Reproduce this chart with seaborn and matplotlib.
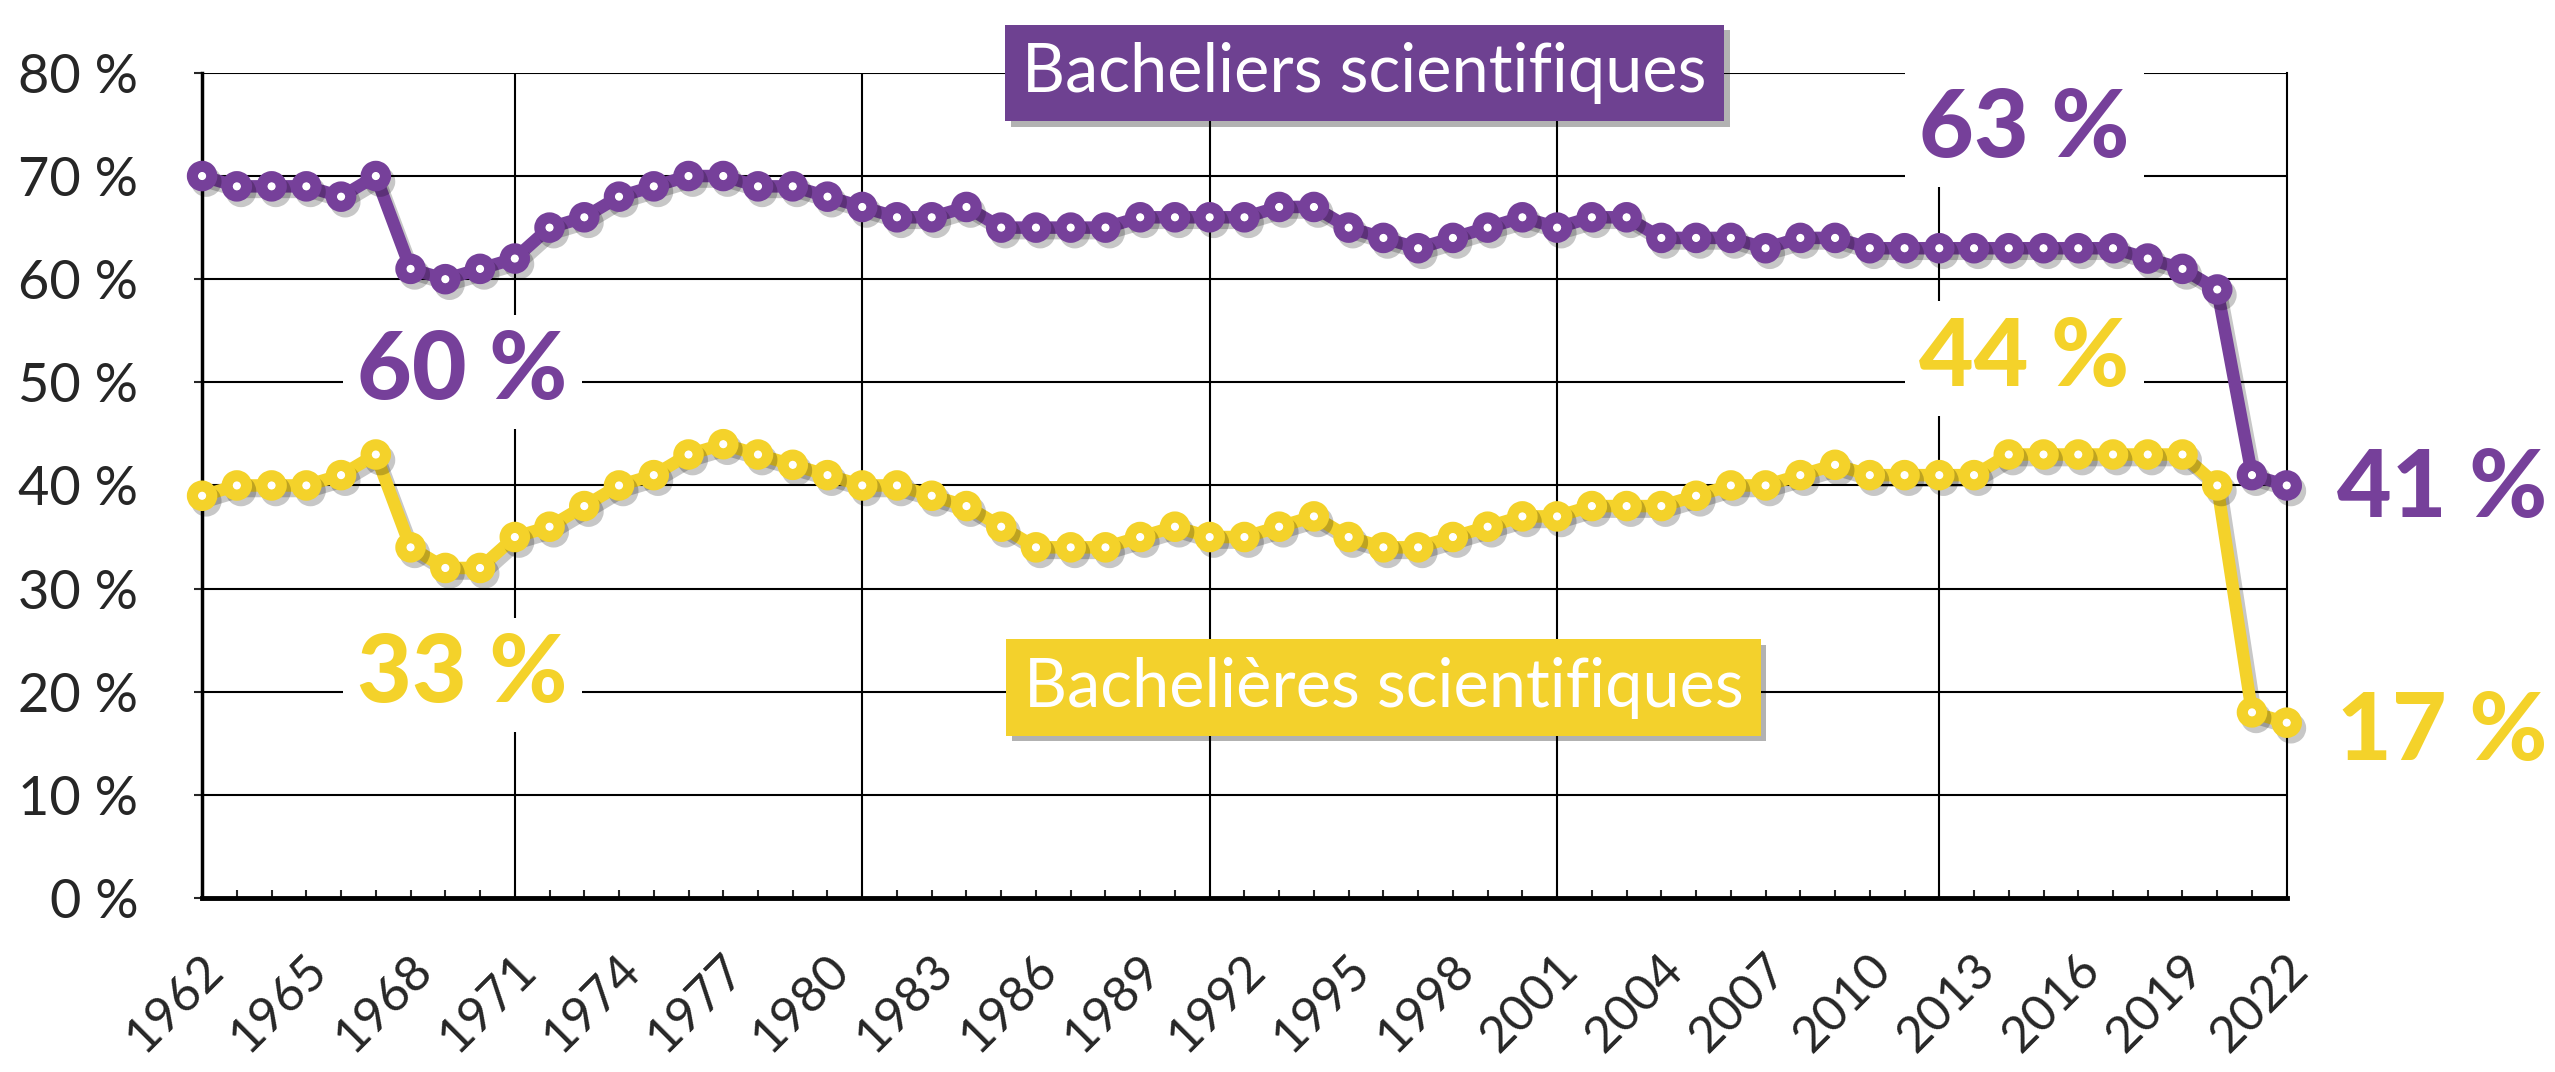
import matplotlib
matplotlib.use('Agg')
import matplotlib.pyplot as plt
import matplotlib.patheffects as pe
import matplotlib.transforms as mtransforms
import seaborn as sns
import pandas as pd

# Share of "bacheliers scientifiques" (boys vs girls), 1962-2022
years = list(range(1962, 2023))
boys = [70, 69, 69, 69, 68, 70, 61, 60, 61, 62,
        65, 66, 68, 69, 70, 70, 69, 69, 68, 67,
        66, 66, 67, 65, 65, 65, 65, 66, 66, 66,
        66, 67, 67, 65, 64, 63, 64, 65, 66, 65,
        66, 66, 64, 64, 64, 63, 64, 64, 63, 63,
        63, 63, 63, 63, 63, 63, 62, 61, 59, 41,
        40]
girls = [39, 40, 40, 40, 41, 43, 34, 32, 32, 35,
         36, 38, 40, 41, 43, 44, 43, 42, 41, 40,
         40, 39, 38, 36, 34, 34, 34, 35, 36, 35,
         35, 36, 37, 35, 34, 34, 35, 36, 37, 37,
         38, 38, 38, 39, 40, 40, 41, 42, 41, 41,
         41, 41, 43, 43, 43, 43, 43, 43, 40, 18,
         17]
tick_years = list(range(1962, 2023, 3))
y_ticks = list(range(0, 81, 10))
divider_years = [1971, 1981, 1991, 2001, 2012]

purple = '#76409A'
yellow = '#F4D22A'
purple_box = '#6E4191'
yellow_box = '#F3D12C'

sns.set_theme(style='white')
plt.rcParams['font.family'] = ['Lato', 'DejaVu Sans']

fig = plt.figure(figsize=(25.55, 10.72), dpi=100)
ax = fig.add_axes([0.0791, 0.1623, 0.8159, 0.7697])

df = pd.DataFrame({'year': years, 'boys': boys, 'girls': girls})

# grid: horizontal every 10 %, a few vertical dividers
ax.hlines(y_ticks[1:], 1962, 2022, color='black', linewidth=1.5, zorder=1)
ax.vlines(divider_years, 0, 80, color='black', linewidth=1.5, zorder=1)

shadow = [pe.SimpleLineShadow(offset=(3, -4), shadow_color='black', alpha=0.22), pe.Normal()]
for col, color in [('boys', purple), ('girls', yellow)]:
    sns.lineplot(data=df, x='year', y=col, ax=ax, color=color, linewidth=9,
                 marker='o', markersize=14, markeredgewidth=8,
                 markerfacecolor='white', markeredgecolor=color,
                 clip_on=False, zorder=5, path_effects=shadow)

ax.set_xlim(1962, 2022)
ax.set_ylim(0, 80)
ax.set_xlabel('')
ax.set_ylabel('')

ax.spines['top'].set_visible(False)
ax.spines['left'].set_linewidth(2.5)
ax.spines['bottom'].set_linewidth(3.5)
ax.spines['right'].set_linewidth(1.5)
for s in ax.spines.values():
    s.set_color('black')

ax.set_yticks(y_ticks)
ax.set_yticklabels([f'{v} %' for v in y_ticks])
ax.set_xticks(tick_years)
ax.set_xticklabels([str(y) for y in tick_years], rotation=45, ha='right',
                   va='center', rotation_mode='anchor')
ax.set_xticks(years, minor=True)
ax.tick_params(axis='y', direction='out', length=6, width=1.5, pad=40,
               labelsize=39, left=True)
ax.tick_params(axis='x', which='both', direction='in', length=6, width=1.5,
               pad=46, labelsize=36, bottom=True)

# big value labels
big = dict(fontsize=68, fontweight='black', ha='center', va='center', zorder=3,
           bbox=dict(facecolor='white', edgecolor='none', boxstyle='square,pad=0.15'))
ax.text(1969.5, 51.0, '60 %', color=purple, **big)
ax.text(1969.5, 21.6, '33 %', color=yellow, **big)
ax.text(2014.45, 74.5, '63 %', color=purple, **big)
ax.text(2014.45, 52.3, '44 %', color=yellow, **big)
ax.text(2029.5, 39.6, '41 %', color=purple, fontsize=68, fontweight='black',
        ha='right', va='center', clip_on=False)
ax.text(2029.5, 16.0, '17 %', color=yellow, fontsize=68, fontweight='black',
        ha='right', va='center', clip_on=False)

# series name boxes
box_shadow = [pe.withSimplePatchShadow(offset=(4, -4), shadow_rgbFace='black', alpha=0.3)]
ax.text(1995.46, 80.0, 'Bacheliers scientifiques', color='white', fontsize=48,
        ha='center', va='center', zorder=6, clip_on=False,
        bbox=dict(facecolor=purple_box, edgecolor='none', boxstyle='square,pad=0.26',
                  path_effects=box_shadow))
ax.text(1996.0, 20.4, 'Bachelières scientifiques', color='white', fontsize=48,
        ha='center', va='center', zorder=6,
        bbox=dict(facecolor=yellow_box, edgecolor='none', boxstyle='square,pad=0.26',
                  path_effects=box_shadow))

offset = mtransforms.ScaledTranslation(0.14, 0, fig.dpi_scale_trans)
for lab in ax.get_xticklabels():
    lab.set_transform(lab.get_transform() + offset)

fig.savefig('out.png', dpi=100)
